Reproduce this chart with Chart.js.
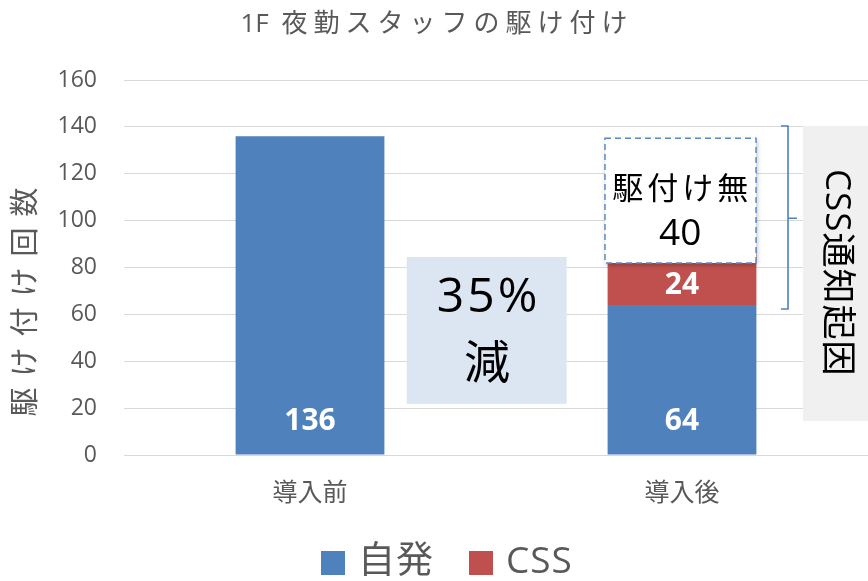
<!DOCTYPE html>
<html><head><meta charset="utf-8">
<script src="https://cdn.jsdelivr.net/npm/chart.js@4/dist/chart.umd.min.js"></script>
<style>html,body{margin:0;padding:0;background:#fff;overflow:hidden}#wrap{width:868px;height:581px;position:relative}</style>
</head><body><div id="wrap"><canvas id="c" width="868" height="581"></canvas></div>
<script>
// ---- data ----
const chartTitle = '1F 夜勤スタッフの駆け付け';
const yAxisTitle = '駆け付け回数';
const categories = ['導入前', '導入後'];
const seriesNames = ['自発', 'CSS'];
const selfValues = [136, 64];
const cssValues = [0, 24];
const yMin = 0, yMax = 160, yStep = 20;
const noAlertLabel = '駆付け無';
const noAlertValue = 40;
const reductionLabel = ['35%', '減'];
const cssCauseLabel = 'CSS通知起因';

// ---- style ----
const BLUE = '#4f81bd', RED = '#c0504d', TXT = '#595959', GRID = '#d9d9d9';
const FONT = '"Open Sans", "Noto Sans CJK JP", sans-serif';
const NUMFONT = '"Open Sans", "Noto Sans CJK JP", sans-serif';

function spacedText(ctx, text, x, y, spacing) {
  ctx.letterSpacing = spacing + 'px';
  ctx.textAlign = 'center';
  ctx.fillText(text, x + spacing / 2, y);
  ctx.letterSpacing = '0px';
}

// spacing only after CJK characters and spaces (Latin letters stay tight)
function mixedCentered(ctx, text, cx, y, spacing) {
  const spaced = ch => /[\s\u3000-\u9fff\uff00-\uffef]/.test(ch);
  const chars = Array.from(text);
  const widths = chars.map((ch, i) => ctx.measureText(ch).width + (spaced(ch) && i < chars.length - 1 ? spacing : 0));
  const total = widths.reduce((a, b) => a + b, 0);
  let x = cx - total / 2;
  ctx.textAlign = 'left';
  chars.forEach((ch, i) => { ctx.fillText(ch, x, y); x += widths[i]; });
}

const overlay = {
  id: 'overlay',
  afterDatasetsDraw(chart) {
    const ctx = chart.ctx;
    ctx.save();
    ctx.fillStyle = '#ffffff';
    ctx.textAlign = 'center';
    ctx.textBaseline = 'middle';
    ctx.font = 'bold 30px ' + NUMFONT;
    chart.data.datasets.forEach((ds, di) => {
      const meta = chart.getDatasetMeta(di);
      meta.data.forEach((bar, i) => {
        const v = ds.data[i];
        if (!v) return;
        const p = bar.getProps(['x', 'y', 'base'], true);
        const off = di === 0 ? 33 : 20;
        ctx.fillText(String(v), p.x, p.base - off);
      });
    });
    ctx.restore();
  },
  afterDraw(chart) {
    const ctx = chart.ctx;
    const xs = chart.scales.x, ys = chart.scales.y;
    const X = v => xs.getPixelForValue(v);
    const Y = v => ys.getPixelForValue(v);
    ctx.save();

    // title
    ctx.fillStyle = TXT;
    ctx.textBaseline = 'middle';
    ctx.font = '26px ' + FONT;
    mixedCentered(ctx, chartTitle, 434, 25, 6);

    // y axis title
    ctx.save();
    ctx.translate(27, 302);
    ctx.rotate(-Math.PI / 2);
    ctx.font = '29px ' + FONT;
    spacedText(ctx, yAxisTitle, 0, 0, 11);
    ctx.restore();

    // 35% reduction box
    ctx.fillStyle = '#dce6f2';
    const rx0 = X(0.26), rx1 = X(0.69), ry0 = Y(84.5), ry1 = Y(21.8);
    ctx.fillRect(rx0, ry0, rx1 - rx0, ry1 - ry0);
    ctx.fillStyle = '#000';
    ctx.font = '48px ' + NUMFONT;
    spacedText(ctx, reductionLabel[0], X(0.476), Y(67), 3);
    ctx.font = '46px ' + FONT;
    spacedText(ctx, reductionLabel[1], X(0.476), Y(38.4), 0);

    // dashed box 駆付け無
    const dx0 = X(0.793), dx1 = X(1.199), dy0 = Y(135.2), dy1 = Y(81.9);
    ctx.save();
    ctx.shadowColor = 'rgba(0,0,0,0.35)';
    ctx.shadowBlur = 5; ctx.shadowOffsetX = 1; ctx.shadowOffsetY = 2;
    ctx.fillStyle = '#ffffff';
    ctx.fillRect(dx0, dy0, dx1 - dx0, dy1 - dy0);
    ctx.restore();
    ctx.strokeStyle = '#5a8ac6';
    ctx.lineWidth = 1.5;
    ctx.setLineDash([6, 4]);
    ctx.strokeRect(dx0, dy0, dx1 - dx0, dy1 - dy0);
    ctx.setLineDash([]);
    ctx.fillStyle = '#000';
    ctx.font = '31px ' + FONT;
    spacedText(ctx, noAlertLabel, X(0.995), Y(113), 4);
    ctx.font = '37px ' + NUMFONT;
    spacedText(ctx, String(noAlertValue), X(0.995), Y(93.9), 0);

    // bracket
    ctx.strokeStyle = BLUE;
    ctx.lineWidth = 1.6;
    const bx0 = X(1.266), bx1 = X(1.285), bx2 = X(1.309);
    const by0 = Y(140.4), by1 = Y(62.3), bym = Y(101);
    ctx.beginPath();
    ctx.moveTo(bx0, by0); ctx.lineTo(bx1, by0); ctx.lineTo(bx1, by1); ctx.lineTo(bx0, by1);
    ctx.moveTo(bx1, bym); ctx.lineTo(bx2, bym);
    ctx.stroke();

    // gray box
    const gx0 = X(1.325), gx1 = chart.width, gy0 = Y(140.4), gy1 = Y(14.5);
    ctx.fillStyle = '#f0f0f0';
    ctx.fillRect(gx0, gy0, gx1 - gx0, gy1 - gy0);
    ctx.save();
    ctx.translate(X(1.414), Y(78));
    ctx.rotate(Math.PI / 2);
    ctx.fillStyle = '#000';
    ctx.font = '35px ' + FONT;
    spacedText(ctx, cssCauseLabel, 0, 0, 1);
    ctx.restore();

    // legend
    const items = chart.data.datasets.map(d => ({ label: d.label, color: d.backgroundColor }));
    const legendX = [321, 469];
    ctx.font = '37px ' + FONT;
    items.forEach((it, i) => {
      ctx.fillStyle = it.color;
      ctx.fillRect(legendX[i], 551, 24, 24);
      ctx.fillStyle = TXT;
      ctx.letterSpacing = '1px';
      ctx.textAlign = 'left';
      ctx.fillText(it.label, legendX[i] + 37, 562);
      ctx.letterSpacing = '0px';
    });

    ctx.restore();
  }
};

new Chart(document.getElementById('c'), {
  type: 'bar',
  data: {
    labels: categories,
    datasets: [
      { label: seriesNames[0], data: selfValues, backgroundColor: BLUE },
      { label: seriesNames[1], data: cssValues, backgroundColor: RED }
    ]
  },
  options: {
    responsive: false,
    animation: false,
    devicePixelRatio: 1,
    layout: { padding: { top: 80, left: 0, right: 0, bottom: 0 } },
    plugins: { legend: { display: false }, title: { display: false }, tooltip: { enabled: false } },
    datasets: { bar: { categoryPercentage: 1, barPercentage: 0.4 } },
    scales: {
      x: {
        stacked: true,
        grid: { display: false, drawTicks: false },
        border: { display: true, color: GRID },
        ticks: { font: { family: FONT, size: 25 }, color: TXT, padding: 24 },
        afterFit(a) { a.height = 126; }
      },
      y: {
        stacked: true, min: yMin, max: yMax,
        ticks: { stepSize: yStep, font: { family: NUMFONT, size: 23 }, color: TXT, padding: 27 },
        grid: { color: GRID, drawTicks: false },
        border: { display: false },
        afterFit(a) { a.width = 124; }
      }
    }
  },
  plugins: [overlay]
});
</script>
</body></html>
